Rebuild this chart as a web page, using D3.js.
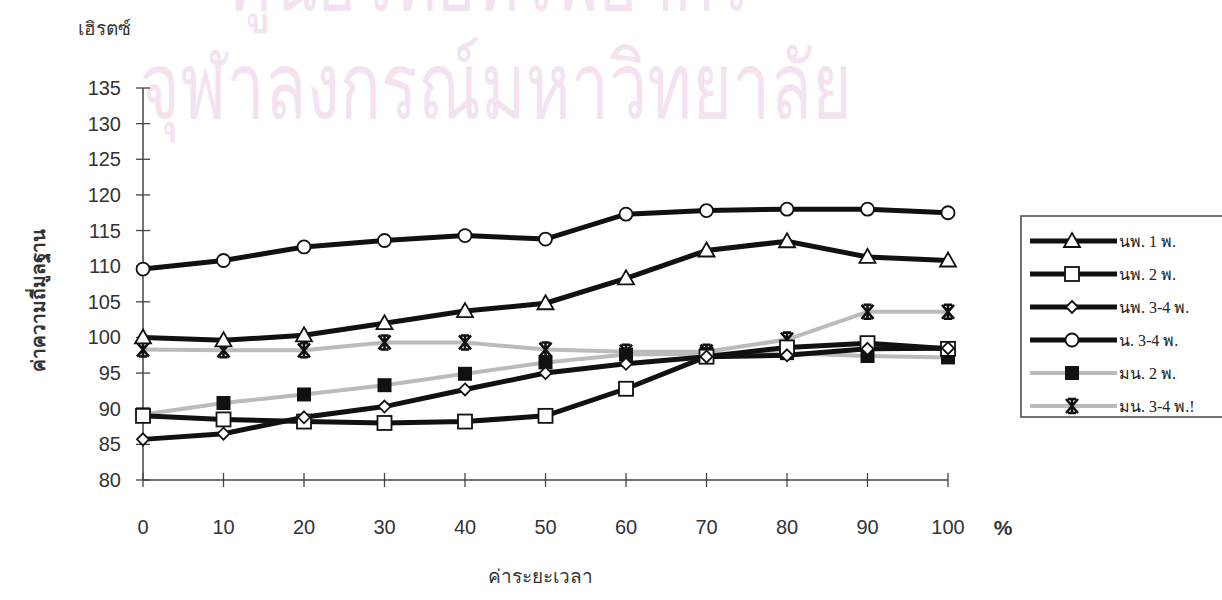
<!DOCTYPE html>
<html><head><meta charset="utf-8">
<script src="https://cdn.jsdelivr.net/npm/d3@7"></script>
<style>body{margin:0;background:#fff}svg{display:block}</style>
</head><body><svg id="c" width="1222" height="600"></svg>
<script>
const xValues = [0,10,20,30,40,50,60,70,80,90,100];
const yTicks = [80,85,90,95,100,105,110,115,120,125,130,135];
const seriesNames = ["นพ. 1 พ.","นพ. 2 พ.","นพ. 3-4 พ.","น. 3-4 พ.","มน. 2 พ.","มน. 3-4 พ.!"];
const s1 = [100,99.6,100.3,102,103.7,104.8,108.3,112.2,113.5,111.3,110.8];
const s2 = [89,88.5,88.2,88,88.2,89,92.8,97.3,98.6,99.2,98.4];
const s3 = [85.7,86.5,88.8,90.3,92.7,95,96.3,97.3,97.5,98.4,98.5];
const s4 = [109.6,110.8,112.7,113.6,114.3,113.8,117.3,117.8,118,118,117.5];
const s5 = [89.2,90.8,92,93.3,94.9,96.5,97.6,97.7,97.8,97.4,97.2];
const s6 = [98.3,98.2,98.2,99.3,99.3,98.3,98,98,99.7,103.6,103.6];

const series = [
  {name:seriesNames[0], v:s1, col:"#111", w:5, m:"tri"},
  {name:seriesNames[1], v:s2, col:"#111", w:5, m:"sq"},
  {name:seriesNames[2], v:s3, col:"#111", w:5, m:"dia"},
  {name:seriesNames[3], v:s4, col:"#111", w:5, m:"circ"},
  {name:seriesNames[4], v:s5, col:"#bbb", w:4, m:"fsq"},
  {name:seriesNames[5], v:s6, col:"#bbb", w:4, m:"ast"}
];

const svg = d3.select("#c");
const x = d3.scaleLinear().domain([0,100]).range([143,948]);
const y = d3.scaleLinear().domain([80,135]).range([480,88]);

// watermark
const wm = svg.append("g").attr("fill","#f3e3f0").attr("font-family","Loma, 'Noto Sans Thai', 'Noto Sans', sans-serif");
wm.append("text").attr("x",230).attr("y",10).attr("font-size",90).attr("textLength",520).attr("lengthAdjust","spacingAndGlyphs").text("ศูนย์วิทยทรัพยากร");
wm.append("text").attr("x",140).attr("y",118).attr("font-size",92).attr("textLength",712).attr("lengthAdjust","spacingAndGlyphs").text("จุฬาลงกรณ์มหาวิทยาลัย");

// axes
const font = "'Liberation Sans', Arial, sans-serif";
svg.append("line").attr("x1",x(0)).attr("x2",x(0)).attr("y1",y(135)).attr("y2",y(80)).attr("stroke","#444").attr("stroke-width",1.5);
svg.append("line").attr("x1",x(0)).attr("x2",x(100)).attr("y1",y(80)).attr("y2",y(80)).attr("stroke","#444").attr("stroke-width",1.5);
svg.append("g").selectAll("line").data(yTicks).join("line")
  .attr("x1",x(0)-7).attr("x2",x(0)+7).attr("y1",d=>y(d)).attr("y2",d=>y(d)).attr("stroke","#444").attr("stroke-width",1.3);
svg.append("g").selectAll("text").data(yTicks).join("text")
  .attr("x",121).attr("y",d=>y(d)+7).attr("text-anchor","end").attr("font-family",font).attr("font-size",20).attr("fill","#333").text(d=>d);
svg.append("g").selectAll("line").data(xValues).join("line")
  .attr("x1",d=>x(d)).attr("x2",d=>x(d)).attr("y1",y(80)-7).attr("y2",y(80)+7).attr("stroke","#444").attr("stroke-width",1.3);
svg.append("g").selectAll("text").data(xValues).join("text")
  .attr("x",d=>x(d)).attr("y",534).attr("text-anchor","middle").attr("font-family",font).attr("font-size",20).attr("fill","#333").text(d=>d);
svg.append("text").attr("x",1003).attr("y",535).attr("text-anchor","middle").attr("font-family",font).attr("font-size",21).attr("font-weight","bold").attr("fill","#333").text("%");

// titles
svg.append("text").attr("x",78).attr("y",35).attr("font-family","'Noto Sans', sans-serif").attr("font-size",19).attr("fill","#333").text("เฮิรตซ์");
svg.append("text").attr("transform","translate(45,300) rotate(-90)").attr("text-anchor","middle").attr("font-family","'Noto Sans', sans-serif").attr("font-size",19).attr("font-weight","bold").attr("fill","#333").text("ค่าความถี่มูลฐาน");
svg.append("text").attr("x",540).attr("y",583).attr("text-anchor","middle").attr("font-family","'Noto Sans', sans-serif").attr("font-size",19).attr("fill","#333").text("ค่าระยะเวลา");

function marker(g, type, cx, cy) {
  if (type==="tri") {
    g.append("path").attr("d",`M${cx},${cy-8}L${cx+8},${cy+6}L${cx-8},${cy+6}Z`).attr("fill","#fff").attr("stroke","#111").attr("stroke-width",1.8);
  } else if (type==="sq") {
    g.append("rect").attr("x",cx-7).attr("y",cy-7).attr("width",14).attr("height",14).attr("fill","#fff").attr("stroke","#111").attr("stroke-width",1.8);
  } else if (type==="dia") {
    g.append("path").attr("d",`M${cx},${cy-6}L${cx+6},${cy}L${cx},${cy+6}L${cx-6},${cy}Z`).attr("fill","#fff").attr("stroke","#111").attr("stroke-width",1.8);
  } else if (type==="circ") {
    g.append("circle").attr("cx",cx).attr("cy",cy).attr("r",6.5).attr("fill","#fff").attr("stroke","#111").attr("stroke-width",1.8);
  } else if (type==="fsq") {
    g.append("rect").attr("x",cx-7).attr("y",cy-7).attr("width",14).attr("height",14).attr("fill","#111");
  } else if (type==="ast") {
    g.append("path").attr("d",`M${cx-6},${cy-7}L${cx+6},${cy+7}M${cx+6},${cy-7}L${cx-6},${cy+7}M${cx},${cy-8}L${cx},${cy+8}M${cx-4},${cy-7}L${cx+4},${cy-7}M${cx-4},${cy+7}L${cx+4},${cy+7}`)
      .attr("fill","none").attr("stroke","#111").attr("stroke-width",2.6);
  }
}

const line = d3.line().x((d,i)=>x(xValues[i])).y(d=>y(d));
const order = [4,5,0,1,2,3];
order.forEach(k=>{
  const s = series[k];
  svg.append("path").attr("d",line(s.v)).attr("fill","none").attr("stroke",s.col).attr("stroke-width",s.w);
});
order.forEach(k=>{
  const s = series[k];
  const g = svg.append("g");
  s.v.forEach((v,i)=>marker(g,s.m,x(xValues[i]),y(v)));
});

// legend
const lg = svg.append("g");
lg.append("rect").attr("x",1021).attr("y",216).attr("width",215).attr("height",201).attr("fill","#fff").attr("stroke","#444").attr("stroke-width",1.5);
series.forEach((s,i)=>{
  const ly = 241 + i*33;
  lg.append("line").attr("x1",1030).attr("x2",1117).attr("y1",ly).attr("y2",ly).attr("stroke",s.col).attr("stroke-width",s.w);
  marker(lg,s.m,1072,ly);
  lg.append("text").attr("x",1119).attr("y",ly+6).attr("font-family","'Liberation Serif', serif").attr("font-size",16).attr("fill","#222").text(s.name);
});
</script></body></html>
